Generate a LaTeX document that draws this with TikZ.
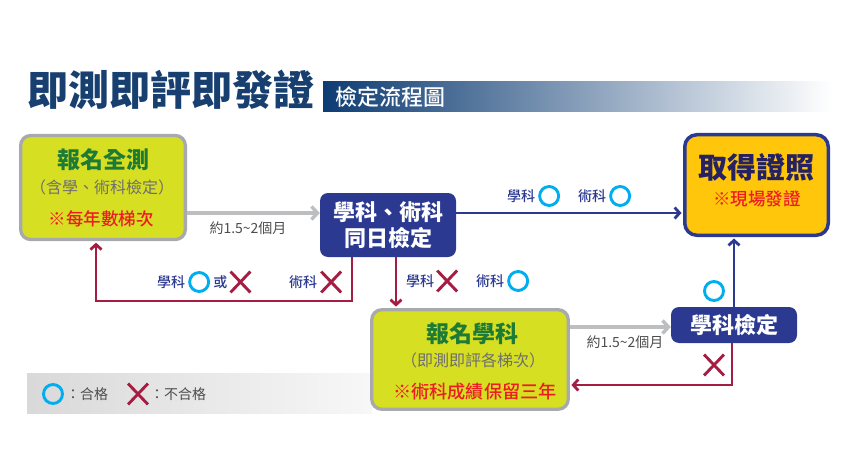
\documentclass[tikz,border=0pt]{standalone}
\usepackage{fontspec}
\newfontfamily\cjk{Noto Sans CJK TC}
\newfontfamily\cjkmid{Noto Sans CJK TC Medium}
\newfontfamily\cjkheavy{Noto Sans CJK TC Black}
\usetikzlibrary{positioning,arrows.meta,shapes.misc}

\definecolor{titleblue}{HTML}{173F6F}
\definecolor{bannerblue}{HTML}{0D3C73}
\definecolor{navy}{HTML}{2B3990}
\definecolor{darknavy}{HTML}{262262}
\definecolor{lime}{HTML}{D7DF23}
\definecolor{gold}{HTML}{FFC60B}
\definecolor{frame}{HTML}{A7A9AC}
\definecolor{leaf}{HTML}{1E7B36}
\definecolor{notegray}{HTML}{6D6E71}
\definecolor{alert}{HTML}{ED1C24}
\definecolor{failred}{HTML}{A51D42}
\definecolor{passblue}{HTML}{00AEEF}
\definecolor{flowgray}{HTML}{BCBEC0}
\definecolor{textgray}{HTML}{4D4D4F}

\newcommand{\fsz}[1]{\fontsize{#1}{#1}\selectfont}
\newcommand{\tld}{{\char"7E}}

\begin{document}
\begin{tikzpicture}[x=1pt, y=-1pt,
      limebox/.style={draw=frame, line width=3.3pt, fill=lime, rounded corners=10pt},
      navybox/.style={fill=navy, rounded corners=8pt, text=white, align=center,
          font=\cjkheavy\fontsize{22}{26}\selectfont, inner sep=0pt},
      boxhead/.style={font=\cjkheavy\fsz{23}, text=leaf, inner sep=0pt},
      subline/.style={font=\cjk\fsz{16}, text=notegray, inner sep=0pt},
      boxtip/.style={font=\cjkmid\fsz{17.5}, text=alert, inner sep=0pt},
      tag/.style={font=\cjkmid\fsz{14}, text=navy, inner sep=0pt},
      months/.style={font=\cjk\fsz{14}, text=textgray, inner sep=0pt},
      keytext/.style={font=\cjk\fsz{14}, text=textgray, inner sep=0pt},
      okmark/.style={circle, draw=passblue, line width=2.9pt, minimum size=19pt, inner sep=0pt},
      ngmark/.style={cross out, draw=failred, line width=2.9pt, minimum width=17pt,
          minimum height=18pt, inner sep=0pt},
      grayflow/.style={draw=flowgray, line width=3.4pt, -{Straight Barb[length=6pt,width=13pt]}},
      blueflow/.style={draw=navy, line width=2.8pt, -{Straight Barb[length=5pt,width=11pt]}},
      redflow/.style={draw=failred, line width=2.8pt, -{Straight Barb[length=5pt,width=11pt]}}]

      \useasboundingbox (0,0) rectangle (842,457);

      % Title and banner
      \node[font=\cjkheavy\fsz{41}, text=titleblue, anchor=west, inner sep=0pt]
          (title) at (27,90) {即測即評即發證};
      \shade[left color=bannerblue, right color=white] (323,82) rectangle (832,112);
      \node[font=\cjkmid\fsz{22}, text=white, anchor=west, inner sep=0pt]
          (subtitle) at (335,97) {檢定流程圖};

      % Legend strip
      \shade[left color=black!15, right color=black!3] (27,373) rectangle (372,413);
      \node[okmark] (keyok) at (53,394) {};
      \node[keytext, right=2pt of keyok] (keyoktext) {：合格};
      \node[ngmark] (keyng) at (138,394) {};
      \node[keytext, right=2pt of keyng] (keyngtext) {：不合格};

      % Sign up for both tests
      \node[limebox, minimum width=164.7pt, minimum height=104pt] (signup) at (103,187.5) {};
      \node[boxhead] (signuphead) at (103,160) {報名全測};
      \node[subline] (signupnote) at (102,187) {（含學、術科檢定）};
      \node[boxtip] (signuptip) at (101,219) {※每年數梯次};

      % Same day test
      \node[navybox, minimum width=136pt, minimum height=64pt] (sameday) at (388,225)
          {學科、術科\\同日檢定};

      % Licence
      \node[draw=navy, line width=3.5pt, fill=gold, rounded corners=12pt,
          minimum width=143.5pt, minimum height=100.5pt] (award) at (756.5,185) {};
      \node[font=\cjkheavy\fsz{29}, text=darknavy, inner sep=0pt] (awardhead) at (756.5,167) {取得證照};
      \node[boxtip] (awardtip) at (757,199) {※現場發證};

      % Sign up for written test only
      \node[limebox, minimum width=196.5pt, minimum height=99.5pt] (retake) at (470,359.5) {};
      \node[boxhead] (retakehead) at (472,334) {報名學科};
      \node[subline] (retakenote) at (473,360) {（即測即評各梯次）};
      \node[boxtip, font=\cjkmid\fsz{18.2}] (retaketip) at (475,392) {※術科成績保留三年};

      % Written test
      \node[navybox, minimum width=126pt, minimum height=36pt] (exam) at (734,325) {學科檢定};

      % Connectors
      \coordinate (row1) at (0,213);
      \coordinate (row2) at (0,327);
      \coordinate (row3) at (0,385);
      \coordinate (loopcorner) at (96,301);
      \coordinate (dropA) at (352,0);
      \coordinate (dropB) at (396,0);
      \coordinate (backx) at (732,0);

      \draw[grayflow] (signup.east |- row1) -- (sameday.west |- row1);
      \draw[blueflow, shorten >=1.5pt] (sameday.east |- row1) -- (award.west |- row1);
      \draw[redflow, shorten >=1.5pt] (sameday.south -| dropB) -- (retake.north -| dropB);
      \draw[redflow, shorten >=1.5pt] (sameday.south -| dropA) |- (loopcorner)
          -- (signup.south -| loopcorner);
      \draw[grayflow] (retake.east |- row2) -- (exam.west |- row2);
      \draw[blueflow, shorten >=1.5pt] (exam.north) -- (award.south -| exam.north);
      \draw[redflow, shorten >=1.5pt] (exam.south -| backx) |- (retake.east |- row3);

      % Labels along the top arrow
      \node[months] (gapA) at (248,228) {約1.5\tld2個月};
      \node[tag] (topwritten) at (521,196) {學科};
      \node[okmark, right=3pt of topwritten] (topwrittenok) {};
      \node[tag] (toppractical) at (592,196) {術科};
      \node[okmark, right=3pt of toppractical] (toppracticalok) {};

      % Labels along the loop back
      \node[tag] (loopwritten) at (171,282) {學科};
      \node[okmark, right=3pt of loopwritten] (loopwrittenok) {};
      \node[tag, right=3pt of loopwrittenok] (loopor) {或};
      \node[ngmark, right=3pt of loopor] (loopwrittenng) {};
      \node[tag] (looppractical) at (303,282) {術科};
      \node[ngmark, right=4pt of looppractical] (looppracticalng) {};

      % Labels along the drop
      \node[tag] (dropwritten) at (420,281) {學科};
      \node[ngmark, right=3pt of dropwritten] (dropwrittenng) {};
      \node[tag] (droppractical) at (490,281) {術科};
      \node[okmark, right=3pt of droppractical] (droppracticalok) {};

      % Written test result
      \node[months] (gapB) at (625,342) {約1.5\tld2個月};
      \node[okmark] (examok) at (714,291) {};
      \node[ngmark] (examng) at (714,365) {};

\end{tikzpicture}
\end{document}
